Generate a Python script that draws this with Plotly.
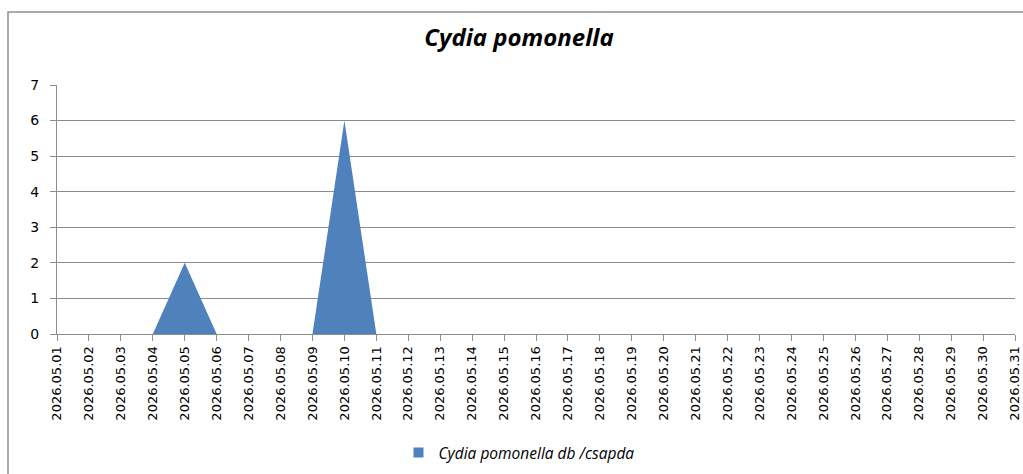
import plotly.graph_objects as go

dates = [f"2026.05.{d:02d}" for d in range(1, 32)]
counts = [0, 0, 0, 0, 2, 0, 0, 0, 0, 6, 0, 0, 0, 0, 0, 0, 0, 0, 0, 0,
          0, 0, 0, 0, 0, 0, 0, 0, 0, 0, 0]
series_name = "Cydia pomonella db /csapda"
title_text = "Cydia pomonella"

W, H = 1023, 474
L, R, T, B = 57, 1015, 85, 334
blue = "#4F81BD"

def px(x):
    return (x - L) / (R - L)

def py(y):
    return (B - y) / (B - T)

fig = go.Figure()
fig.add_trace(go.Scatter(
    x=dates, y=counts, name=series_name, showlegend=False,
    mode="none", fill="tozeroy", fillcolor=blue,
))
# legend entry shown as a small square, like the reference
fig.add_trace(go.Scatter(
    x=[None], y=[None], name=series_name, mode="markers",
    marker=dict(symbol="square", size=10, color=blue),
))

grid = "#8C8C8C"
fig.update_layout(
    width=W, height=H,
    margin=dict(l=L, r=W - R, t=T, b=H - B, autoexpand=False),
    paper_bgcolor="white", plot_bgcolor="white",
    title=dict(text=title_text, x=px(519), xref="paper", xanchor="center",
               y=1 - 38 / H, yanchor="middle",
               font=dict(family="Open Sans", size=24, color="black",
                         weight="bold", style="italic")),
    showlegend=True,
    legend=dict(orientation="h", x=px(519), xanchor="center", y=py(453),
                yanchor="middle", font=dict(family="Open Sans", size=15.5,
                                            color="black", style="italic"),
                itemwidth=30),
    xaxis=dict(type="category", range=[0, 30], showgrid=False,
               ticks="outside", ticklen=6, tickcolor=grid, tickwidth=1,
               showline=True, linecolor=grid, linewidth=1,
               tickangle=-90, tickfont=dict(family="DejaVu Sans", size=13, color="black"),
               tickmode="array", tickvals=dates, ticktext=dates),
    yaxis=dict(range=[0, 7], dtick=1, showgrid=True, gridcolor=grid, gridwidth=1,
               ticks="outside", ticklen=6, tickcolor=grid,
               showline=True, linecolor=grid, zeroline=False,
               tickfont=dict(family="DejaVu Sans", size=14, color="black"),
               ticklabelstandoff=8),
    shapes=[dict(type="rect", xref="paper", yref="paper",
                 x0=px(8), x1=px(1100), y0=py(12), y1=py(600),
                 line=dict(color="#8E8E8E", width=1.5), fillcolor="rgba(0,0,0,0)",
                 layer="below")],
)

fig.write_html("out.html", config={"displayModeBar": False},
               post_script="document.body.style.margin='0';document.body.style.overflow='hidden';")
